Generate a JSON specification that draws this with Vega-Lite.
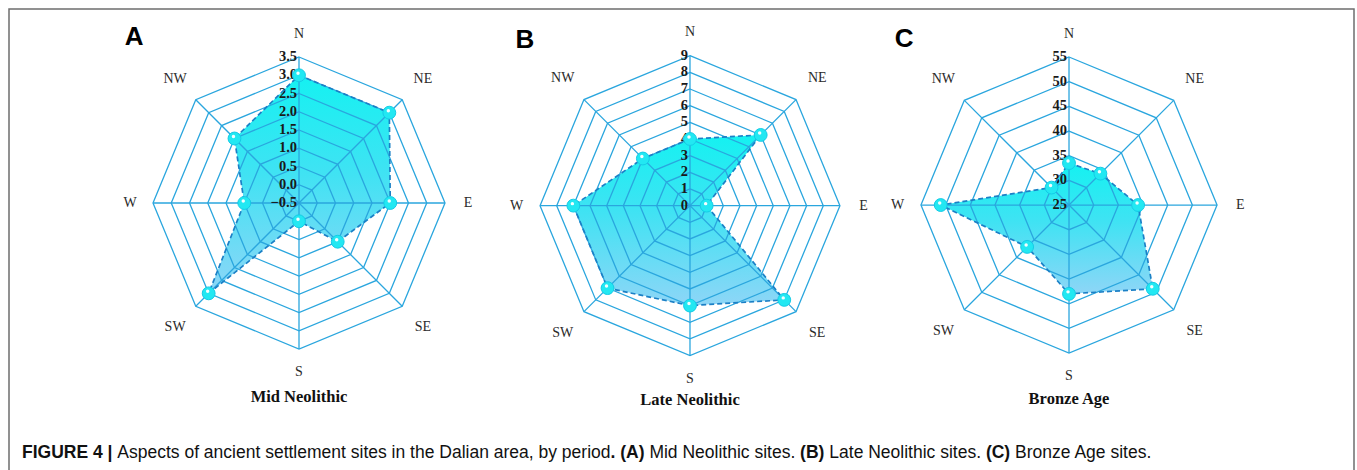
{
  "$schema": "https://vega.github.io/schema/vega-lite/v6.json",
  "width": 1345,
  "height": 470,
  "autosize": {"type": "none"},
  "padding": {"left": 9, "top": 9, "right": 3, "bottom": -9},
  "background": "white",
  "config": {"view": {"stroke": "#6e6e6e", "strokeWidth": 1.5}},
  "datasets": {
    "vals": [
      {"panel": "A", "dir": "N", "value": 3},
      {"panel": "A", "dir": "NE", "value": 3},
      {"panel": "A", "dir": "E", "value": 2},
      {"panel": "A", "dir": "SE", "value": 1},
      {"panel": "A", "dir": "S", "value": 0},
      {"panel": "A", "dir": "SW", "value": 3},
      {"panel": "A", "dir": "W", "value": 1},
      {"panel": "A", "dir": "NW", "value": 2},
      {"panel": "B", "dir": "N", "value": 4},
      {"panel": "B", "dir": "NE", "value": 6},
      {"panel": "B", "dir": "E", "value": 1},
      {"panel": "B", "dir": "SE", "value": 8},
      {"panel": "B", "dir": "S", "value": 6},
      {"panel": "B", "dir": "SW", "value": 7},
      {"panel": "B", "dir": "W", "value": 7},
      {"panel": "B", "dir": "NW", "value": 4},
      {"panel": "C", "dir": "N", "value": 33.5},
      {"panel": "C", "dir": "NE", "value": 34},
      {"panel": "C", "dir": "E", "value": 39},
      {"panel": "C", "dir": "SE", "value": 49},
      {"panel": "C", "dir": "S", "value": 43},
      {"panel": "C", "dir": "SW", "value": 37},
      {"panel": "C", "dir": "W", "value": 51},
      {"panel": "C", "dir": "NW", "value": 30}
    ],
    "grid": [
      {"panel": "A", "tick": [-0.5, 0, 0.5, 1, 1.5, 2, 2.5, 3, 3.5], "dir": ["N", "NE", "E", "SE", "S", "SW", "W", "NW"]},
      {"panel": "B", "tick": [0, 1, 2, 3, 4, 5, 6, 7, 8, 9], "dir": ["N", "NE", "E", "SE", "S", "SW", "W", "NW"]},
      {"panel": "C", "tick": [25, 30, 35, 40, 45, 50, 55], "dir": ["N", "NE", "E", "SE", "S", "SW", "W", "NW"]}
    ],
    "panels": [
      {"panel": "A", "letter": "A", "title": "Mid Neolithic"},
      {"panel": "B", "letter": "B", "title": "Late Neolithic"},
      {"panel": "C", "letter": "C", "title": "Bronze Age"}
    ],
    "caption": [
      {"i": 1, "t": "FIGURE 4 |"},
      {"i": 2, "t": "Aspects of ancient settlement sites in the Dalian area, by period"},
      {"i": 3, "t": ". (A)"},
      {"i": 4, "t": "Mid Neolithic sites."},
      {"i": 5, "t": "(B)"},
      {"i": 6, "t": "Late Neolithic sites."},
      {"i": 7, "t": "(C)"},
      {"i": 8, "t": "Bronze Age sites."}
    ]
  },
  "layer": [
    {
      "data": {"name": "vals"},
      "transform": [
        {"calculate": "indexof(['N','NE','E','SE','S','SW','W','NW'], datum.dir) * PI / 4", "as": "ang"},
        {"calculate": "datum.panel == 'A' ? 0 : datum.panel == 'B' ? 2.678 : 5.274", "as": "cx"},
        {"calculate": "datum.panel == 'A' ? 0 : datum.panel == 'B' ? -0.018 : -0.014", "as": "cy"},
        {"calculate": "datum.panel == 'A' ? 1 : datum.panel == 'B' ? 1.027 : 1.014", "as": "R"},
        {"calculate": "datum.panel == 'A' ? -0.5 : datum.panel == 'B' ? 0 : 25", "as": "lo"},
        {"calculate": "datum.panel == 'A' ? 3.5 : datum.panel == 'B' ? 9 : 55", "as": "hi"},
        {"calculate": "(datum.value - datum.lo) / (datum.hi - datum.lo) * datum.R", "as": "r"},
        {"calculate": "datum.cx + datum.r * sin(datum.ang)", "as": "px"},
        {"calculate": "datum.cy + datum.r * cos(datum.ang)", "as": "py"}
      ],
      "mark": {
        "type": "line",
        "interpolate": "linear-closed",
        "filled": true,
        "strokeWidth": 0,
        "opacity": 0.92,
        "fill": {
          "gradient": "linear", "x1": 0, "y1": 0, "x2": 0, "y2": 1,
          "stops": [{"offset": 0, "color": "#00f0f0"}, {"offset": 0.45, "color": "#2fe0f2"}, {"offset": 1, "color": "#84d2f6"}]
        }
      },
      "encoding": {
        "x": {"field": "px", "type": "quantitative", "scale": {"domain": [-1.9863, 7.226], "nice": false, "zero": false}, "axis": null},
        "y": {"field": "py", "type": "quantitative", "scale": {"domain": [-1.8904, 1.3288], "nice": false, "zero": false}, "axis": null},
        "detail": {"field": "panel"},
        "order": {"field": "ang", "type": "quantitative"}
      }
    },
    {
      "data": {"name": "grid"},
      "transform": [
        {"flatten": ["tick"]},
        {"flatten": ["dir"]},
        {"calculate": "indexof(['N','NE','E','SE','S','SW','W','NW'], datum.dir) * PI / 4", "as": "ang"},
        {"calculate": "datum.panel == 'A' ? 0 : datum.panel == 'B' ? 2.678 : 5.274", "as": "cx"},
        {"calculate": "datum.panel == 'A' ? 0 : datum.panel == 'B' ? -0.018 : -0.014", "as": "cy"},
        {"calculate": "datum.panel == 'A' ? 1 : datum.panel == 'B' ? 1.027 : 1.014", "as": "R"},
        {"calculate": "datum.panel == 'A' ? -0.5 : datum.panel == 'B' ? 0 : 25", "as": "lo"},
        {"calculate": "datum.panel == 'A' ? 3.5 : datum.panel == 'B' ? 9 : 55", "as": "hi"},
        {"calculate": "(datum.tick - datum.lo) / (datum.hi - datum.lo) * datum.R", "as": "r"},
        {"calculate": "datum.cx + datum.r * sin(datum.ang)", "as": "px"},
        {"calculate": "datum.cy + datum.r * cos(datum.ang)", "as": "py"},
        {"filter": "datum.tick > datum.lo"}
      ],
      "mark": {"type": "line", "interpolate": "linear-closed", "stroke": "#2aa6de", "strokeWidth": 1.3},
      "encoding": {
        "x": {"field": "px", "type": "quantitative", "scale": {"domain": [-1.9863, 7.226], "nice": false, "zero": false}, "axis": null},
        "y": {"field": "py", "type": "quantitative", "scale": {"domain": [-1.8904, 1.3288], "nice": false, "zero": false}, "axis": null},
        "detail": [{"field": "panel"}, {"field": "tick"}],
        "order": {"field": "ang", "type": "quantitative"}
      }
    },
    {
      "data": {"name": "grid"},
      "transform": [
        {"flatten": ["dir"]},
        {"calculate": "indexof(['N','NE','E','SE','S','SW','W','NW'], datum.dir) * PI / 4", "as": "ang"},
        {"calculate": "datum.panel == 'A' ? 0 : datum.panel == 'B' ? 2.678 : 5.274", "as": "cx"},
        {"calculate": "datum.panel == 'A' ? 0 : datum.panel == 'B' ? -0.018 : -0.014", "as": "cy"},
        {"calculate": "datum.panel == 'A' ? 1 : datum.panel == 'B' ? 1.027 : 1.014", "as": "R"},
        {"calculate": "datum.cx + datum.R * sin(datum.ang)", "as": "px"},
        {"calculate": "datum.cy + datum.R * cos(datum.ang)", "as": "py"}
      ],
      "mark": {"type": "rule", "stroke": "#2aa6de", "strokeWidth": 1.3},
      "encoding": {
        "x": {"field": "cx", "type": "quantitative", "scale": {"domain": [-1.9863, 7.226], "nice": false, "zero": false}, "axis": null},
        "y": {"field": "cy", "type": "quantitative", "scale": {"domain": [-1.8904, 1.3288], "nice": false, "zero": false}, "axis": null},
        "x2": {"field": "px"},
        "y2": {"field": "py"}
      }
    },
    {
      "data": {"name": "grid"},
      "transform": [
        {"flatten": ["tick"]},
        {"calculate": "datum.panel == 'A' ? 0 : datum.panel == 'B' ? 2.678 : 5.274", "as": "cx"},
        {"calculate": "datum.panel == 'A' ? 0 : datum.panel == 'B' ? -0.018 : -0.014", "as": "cy"},
        {"calculate": "datum.panel == 'A' ? 1 : datum.panel == 'B' ? 1.027 : 1.014", "as": "R"},
        {"calculate": "datum.panel == 'A' ? -0.5 : datum.panel == 'B' ? 0 : 25", "as": "lo"},
        {"calculate": "datum.panel == 'A' ? 3.5 : datum.panel == 'B' ? 9 : 55", "as": "hi"},
        {"calculate": "datum.cy + (datum.tick - datum.lo) / (datum.hi - datum.lo) * datum.R", "as": "py"},
        {"calculate": "datum.panel == 'A' ? format(datum.tick, '.1f') : format(datum.tick, 'd')", "as": "lab"}
      ],
      "mark": {"type": "text", "align": "right", "baseline": "middle", "dx": -2, "font": "Liberation Serif", "fontWeight": "bold", "fontSize": 14.5, "fill": "#1a1a1a"},
      "encoding": {
        "x": {"field": "cx", "type": "quantitative", "scale": {"domain": [-1.9863, 7.226], "nice": false, "zero": false}, "axis": null},
        "y": {"field": "py", "type": "quantitative", "scale": {"domain": [-1.8904, 1.3288], "nice": false, "zero": false}, "axis": null},
        "text": {"field": "lab"}
      }
    },
    {
      "data": {"name": "vals"},
      "transform": [
        {"calculate": "indexof(['N','NE','E','SE','S','SW','W','NW'], datum.dir) * PI / 4", "as": "ang"},
        {"calculate": "datum.panel == 'A' ? 0 : datum.panel == 'B' ? 2.678 : 5.274", "as": "cx"},
        {"calculate": "datum.panel == 'A' ? 0 : datum.panel == 'B' ? -0.018 : -0.014", "as": "cy"},
        {"calculate": "datum.panel == 'A' ? 1 : datum.panel == 'B' ? 1.027 : 1.014", "as": "R"},
        {"calculate": "datum.panel == 'A' ? -0.5 : datum.panel == 'B' ? 0 : 25", "as": "lo"},
        {"calculate": "datum.panel == 'A' ? 3.5 : datum.panel == 'B' ? 9 : 55", "as": "hi"},
        {"calculate": "(datum.value - datum.lo) / (datum.hi - datum.lo) * datum.R", "as": "r"},
        {"calculate": "datum.cx + datum.r * sin(datum.ang)", "as": "px"},
        {"calculate": "datum.cy + datum.r * cos(datum.ang)", "as": "py"}
      ],
      "mark": {"type": "line", "interpolate": "linear-closed", "stroke": "#1b80c6", "strokeWidth": 1.7, "strokeDash": [5, 3]},
      "encoding": {
        "x": {"field": "px", "type": "quantitative", "scale": {"domain": [-1.9863, 7.226], "nice": false, "zero": false}, "axis": null},
        "y": {"field": "py", "type": "quantitative", "scale": {"domain": [-1.8904, 1.3288], "nice": false, "zero": false}, "axis": null},
        "detail": {"field": "panel"},
        "order": {"field": "ang", "type": "quantitative"}
      }
    },
    {
      "data": {"name": "vals"},
      "transform": [
        {"calculate": "indexof(['N','NE','E','SE','S','SW','W','NW'], datum.dir) * PI / 4", "as": "ang"},
        {"calculate": "datum.panel == 'A' ? 0 : datum.panel == 'B' ? 2.678 : 5.274", "as": "cx"},
        {"calculate": "datum.panel == 'A' ? 0 : datum.panel == 'B' ? -0.018 : -0.014", "as": "cy"},
        {"calculate": "datum.panel == 'A' ? 1 : datum.panel == 'B' ? 1.027 : 1.014", "as": "R"},
        {"calculate": "datum.panel == 'A' ? -0.5 : datum.panel == 'B' ? 0 : 25", "as": "lo"},
        {"calculate": "datum.panel == 'A' ? 3.5 : datum.panel == 'B' ? 9 : 55", "as": "hi"},
        {"calculate": "(datum.value - datum.lo) / (datum.hi - datum.lo) * datum.R", "as": "r"},
        {"calculate": "datum.cx + datum.r * sin(datum.ang)", "as": "px"},
        {"calculate": "datum.cy + datum.r * cos(datum.ang)", "as": "py"}
      ],
      "layer": [
        {
          "mark": {"type": "point", "filled": true, "size": 165, "fill": "#22e8f2", "stroke": "#14cbe6", "strokeWidth": 1, "opacity": 1},
          "encoding": {
            "x": {"field": "px", "type": "quantitative", "scale": {"domain": [-1.9863, 7.226], "nice": false, "zero": false}, "axis": null},
            "y": {"field": "py", "type": "quantitative", "scale": {"domain": [-1.8904, 1.3288], "nice": false, "zero": false}, "axis": null}
          }
        },
        {
          "mark": {"type": "point", "filled": true, "size": 12, "fill": "white", "opacity": 0.95, "xOffset": -1, "yOffset": -2},
          "encoding": {
            "x": {"field": "px", "type": "quantitative", "scale": {"domain": [-1.9863, 7.226], "nice": false, "zero": false}, "axis": null},
            "y": {"field": "py", "type": "quantitative", "scale": {"domain": [-1.8904, 1.3288], "nice": false, "zero": false}, "axis": null}
          }
        }
      ]
    },
    {
      "data": {"name": "grid"},
      "transform": [
        {"flatten": ["dir"]},
        {"calculate": "indexof(['N','NE','E','SE','S','SW','W','NW'], datum.dir)", "as": "k"},
        {"calculate": "datum.k * PI / 4", "as": "ang"},
        {"calculate": "datum.k % 2 == 0 ? 1.157 : 1.2", "as": "L"},
        {"calculate": "datum.panel == 'A' ? 0 : datum.panel == 'B' ? 2.678 : 5.274", "as": "cx"},
        {"calculate": "datum.panel == 'A' ? 0 : datum.panel == 'B' ? -0.018 : -0.014", "as": "cy"},
        {"calculate": "datum.panel == 'A' ? 1 : datum.panel == 'B' ? 1.027 : 1.014", "as": "R"},
        {"calculate": "datum.cx + datum.R * datum.L * sin(datum.ang)", "as": "px"},
        {"calculate": "datum.cy + datum.R * datum.L * cos(datum.ang)", "as": "py"}
      ],
      "mark": {"type": "text", "align": "center", "baseline": "middle", "font": "Liberation Serif", "fontSize": 14, "fill": "#2a2a2a"},
      "encoding": {
        "x": {"field": "px", "type": "quantitative", "scale": {"domain": [-1.9863, 7.226], "nice": false, "zero": false}, "axis": null},
        "y": {"field": "py", "type": "quantitative", "scale": {"domain": [-1.8904, 1.3288], "nice": false, "zero": false}, "axis": null},
        "text": {"field": "dir"}
      }
    },
    {
      "data": {"name": "panels"},
      "transform": [
        {"calculate": "datum.panel == 'A' ? 0 : datum.panel == 'B' ? 2.678 : 5.274", "as": "cx"},
        {"calculate": "datum.panel == 'A' ? 0 : datum.panel == 'B' ? -0.018 : -0.014", "as": "cy"},
        {"calculate": "datum.cy - 1.33", "as": "ty"},
        {"calculate": "datum.cx - 1.13", "as": "lx"},
        {"calculate": "datum.cy + 1.08", "as": "ly"}
      ],
      "layer": [
        {
          "mark": {"type": "text", "align": "center", "baseline": "middle", "font": "Liberation Serif", "fontWeight": "bold", "fontSize": 16.5, "fill": "#111111"},
          "encoding": {
            "x": {"field": "cx", "type": "quantitative", "scale": {"domain": [-1.9863, 7.226], "nice": false, "zero": false}, "axis": null},
            "y": {"field": "ty", "type": "quantitative", "scale": {"domain": [-1.8904, 1.3288], "nice": false, "zero": false}, "axis": null},
            "text": {"field": "title"}
          }
        },
        {
          "mark": {"type": "text", "align": "center", "baseline": "alphabetic", "font": "Liberation Sans", "fontWeight": "bold", "fontSize": 26, "fill": "#000000"},
          "encoding": {
            "x": {"field": "lx", "type": "quantitative", "scale": {"domain": [-1.9863, 7.226], "nice": false, "zero": false}, "axis": null},
            "y": {"field": "ly", "type": "quantitative", "scale": {"domain": [-1.8904, 1.3288], "nice": false, "zero": false}, "axis": null},
            "text": {"field": "letter"}
          }
        }
      ]
    },
    {
      "data": {"name": "caption"},
      "layer": [
        {"transform": [{"filter": "datum.i == 1"}], "mark": {"type": "text", "x": 13, "y": 449, "align": "left", "baseline": "alphabetic", "font": "Liberation Sans", "fontWeight": "bold", "fontSize": 17.5, "fill": "#111111"}, "encoding": {"text": {"field": "t"}}},
        {"transform": [{"filter": "datum.i == 2"}], "mark": {"type": "text", "x": 108.3, "y": 449, "align": "left", "baseline": "alphabetic", "font": "Liberation Sans", "fontSize": 17.5, "fill": "#111111"}, "encoding": {"text": {"field": "t"}}},
        {"transform": [{"filter": "datum.i == 3"}], "mark": {"type": "text", "x": 601.5, "y": 449, "align": "left", "baseline": "alphabetic", "font": "Liberation Sans", "fontWeight": "bold", "fontSize": 17.5, "fill": "#111111"}, "encoding": {"text": {"field": "t"}}},
        {"transform": [{"filter": "datum.i == 4"}], "mark": {"type": "text", "x": 640.4, "y": 449, "align": "left", "baseline": "alphabetic", "font": "Liberation Sans", "fontSize": 17.5, "fill": "#111111"}, "encoding": {"text": {"field": "t"}}},
        {"transform": [{"filter": "datum.i == 5"}], "mark": {"type": "text", "x": 791.1, "y": 449, "align": "left", "baseline": "alphabetic", "font": "Liberation Sans", "fontWeight": "bold", "fontSize": 17.5, "fill": "#111111"}, "encoding": {"text": {"field": "t"}}},
        {"transform": [{"filter": "datum.i == 6"}], "mark": {"type": "text", "x": 820.3, "y": 449, "align": "left", "baseline": "alphabetic", "font": "Liberation Sans", "fontSize": 17.5, "fill": "#111111"}, "encoding": {"text": {"field": "t"}}},
        {"transform": [{"filter": "datum.i == 7"}], "mark": {"type": "text", "x": 976.9, "y": 449, "align": "left", "baseline": "alphabetic", "font": "Liberation Sans", "fontWeight": "bold", "fontSize": 17.5, "fill": "#111111"}, "encoding": {"text": {"field": "t"}}},
        {"transform": [{"filter": "datum.i == 8"}], "mark": {"type": "text", "x": 1006.1, "y": 449, "align": "left", "baseline": "alphabetic", "font": "Liberation Sans", "fontSize": 17.5, "fill": "#111111"}, "encoding": {"text": {"field": "t"}}}
      ]
    }
  ]
}
